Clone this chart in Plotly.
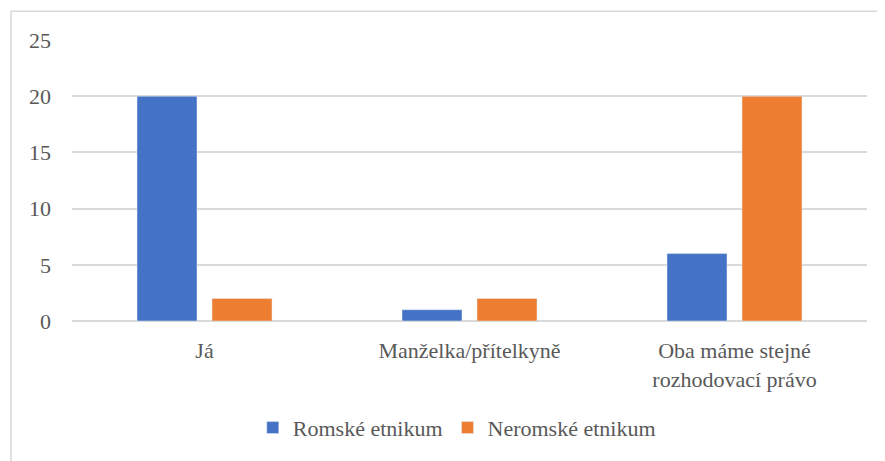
import plotly.graph_objects as go

categories = ["Já", "Manželka/přítelkyně", "Oba máme stejné<br>rozhodovací právo"]
romske = [20, 1, 6]
neromske = [2, 2, 20]
y_ticks = [0, 5, 10, 15, 20, 25]

text_color = "#595959"
grid_color = "#d9d9d9"
font_family = "'Liberation Serif', 'Times New Roman', serif"

fig = go.Figure()
fig.add_trace(go.Bar(x=categories, y=romske, name="Romské etnikum", marker_color="#4472c4"))
fig.add_trace(go.Bar(x=categories, y=neromske, name="Neromské etnikum", marker_color="#ed7d31"))

# chart frame (Excel-like border); page body has an 8px offset
fig.add_shape(
    type="rect", xref="paper", yref="paper",
    x0=-0.0767, x1=1.2, y0=-0.7, y1=1.102,
    line=dict(color=grid_color, width=1.5), layer="below",
)

fig.update_layout(
    width=877,
    height=453,
    paper_bgcolor="white",
    plot_bgcolor="white",
    font=dict(family=font_family, size=22, color=text_color),
    barmode="group",
    bargap=0.434,
    bargroupgap=0.2,
    margin=dict(l=64, r=18, t=32, b=137),
    xaxis=dict(showgrid=False, showline=False, ticks="", automargin=False,
               ticklabelstandoff=14,
               tickfont=dict(family=font_family, size=22)),
    yaxis=dict(
        range=[0, 25],
        tickvals=y_ticks,
        showgrid=True,
        gridcolor=grid_color,
        gridwidth=1.5,
        zeroline=True,
        zerolinecolor=grid_color,
        zerolinewidth=1.5,
        ticks="",
        automargin=False,
        ticklabelstandoff=20,
        tickfont=dict(family=font_family, size=22),
    ),
    legend=dict(
        orientation="h",
        x=0.484,
        xanchor="center",
        y=-0.38,
        yanchor="middle",
        font=dict(family=font_family, size=22, color=text_color),
    ),
    showlegend=True,
)

fig.write_html("out.html")
